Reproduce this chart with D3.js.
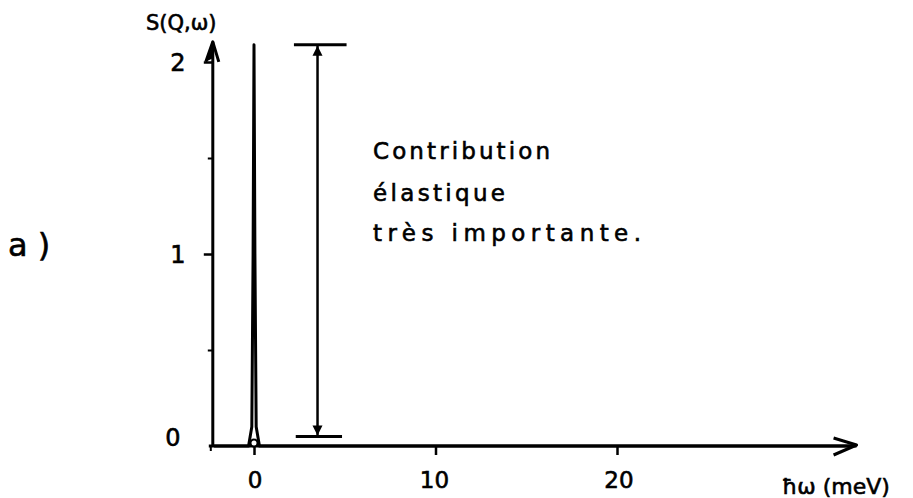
<!DOCTYPE html>
<html><head><meta charset="utf-8">
<script src="https://cdn.jsdelivr.net/npm/d3@7"></script>
<style>
html,body{margin:0;padding:0;background:#fff;}
svg text{font-family:"DejaVu Sans",sans-serif;fill:#000;stroke:#000;stroke-width:0.6px;}
</style></head>
<body><svg id="c" width="913" height="498"></svg>
<script>
// Data
const xTicks = [0, 10, 20];
const xTickLabels = ["0", "10", "20"];
const yMajorTicks = [0, 1, 2];
const yTickLabels = ["0", "1", "2"];
const yMinorTicks = [0.5, 1.5];
// Elastic peak S(Q,w) vs hbar*omega (meV)
const peakX = [-2.2, -0.3, -0.12, -0.05, 0, 0.05, 0.12, 0.3, 33];
const peakY = [0, 0, 0.1, 1.0, 2.09, 1.0, 0.1, 0, 0];
// Double arrow marking the elastic contribution
const arrowX = 3.5, arrowTop = 2.09, arrowBottom = 0.05;
const noteLines = ["Contribution", "élastique", "très  importante."];

const svg = d3.select("#c");
const x = d3.scaleLinear().domain([0, 20]).range([254, 617]);
const y = d3.scaleLinear().domain([0, 2]).range([446, 62]);
const xMin = -2.27, xMax = 33.2, yTop = 2.105;

// axes via d3
const gx = svg.append("g").attr("transform", `translate(0,${y(0)})`)
  .call(d3.axisBottom(x).tickValues(xTicks).tickSize(9).tickFormat(""));
gx.select(".domain").remove();
gx.selectAll(".tick line").attr("stroke", "#000").attr("stroke-width", 2.5);
const gy = svg.append("g").attr("transform", `translate(${x(xMin)},0)`)
  .call(d3.axisLeft(y).tickValues([1, 2]).tickSize(9).tickFormat(""));
gy.select(".domain").remove();
gy.selectAll(".tick line").attr("stroke", "#000").attr("stroke-width", 2.5);
const gy2 = svg.append("g").attr("transform", `translate(${x(xMin)},0)`)
  .call(d3.axisLeft(y).tickValues(yMinorTicks).tickSize(5).tickFormat(""));
gy2.select(".domain").remove();
gy2.selectAll(".tick line").attr("stroke", "#000").attr("stroke-width", 2);

// axis lines
svg.append("line").attr("x1", x(xMin) - 4).attr("x2", x(xMax)).attr("y1", y(0)).attr("y2", y(0))
  .attr("stroke", "#000").attr("stroke-width", 3);
svg.append("line").attr("x1", x(xMin)).attr("x2", x(xMin)).attr("y1", y(0)).attr("y2", y(yTop))
  .attr("stroke", "#000").attr("stroke-width", 3);
svg.append("line").attr("x1", x(xMin) - 2).attr("x2", x(xMin) - 2).attr("y1", y(0)).attr("y2", y(0) + 5)
  .attr("stroke", "#000").attr("stroke-width", 2);
// arrowheads
svg.append("path").attr("d", `M${x(xMax)-23},${y(0)-8} L${x(xMax)},${y(0)-1} L${x(xMax)-23},${y(0)+9}`)
  .attr("fill", "none").attr("stroke", "#000").attr("stroke-width", 3).attr("stroke-linejoin", "round");
svg.append("path").attr("d", `M${x(xMin)-7},${y(yTop)+20} L${x(xMin)},${y(yTop)} L${x(xMin)+6},${y(yTop)+20}`)
  .attr("fill", "none").attr("stroke", "#000").attr("stroke-width", 3).attr("stroke-linejoin", "round");
svg.append("path").attr("d", `M${x(xMin)-7},${y(yTop)+20} L${x(xMin)},${y(yTop)+4} L${x(xMin)+1},${y(yTop)+16}Z`)
  .attr("fill", "#000");

// tick labels
svg.selectAll(".xl").data(xTicks).enter().append("text")
  .attr("x", (d, i) => x(d) + [1, -1, 2][i]).attr("y", 488).attr("text-anchor", "middle")
  .attr("font-size", 23).text((d, i) => xTickLabels[i]);
svg.selectAll(".yl").data(yMajorTicks).enter().append("text")
  .attr("x", (d, i) => [173, 178, 178][i]).attr("y", d => d === 0 ? y(d) : y(d) + 9)
  .attr("text-anchor", "middle").attr("font-size", 24).text((d, i) => yTickLabels[i]);

// peak
const line = d3.line().x((d, i) => x(peakX[i])).y((d, i) => y(peakY[i]));
svg.append("path").datum(peakX).attr("d", line).attr("fill", "none")
  .attr("stroke", "#000").attr("stroke-width", 3).attr("stroke-linejoin", "round");
svg.append("circle").attr("cx", x(0)).attr("cy", y(0) - 3).attr("r", 3.5)
  .attr("fill", "#fff").attr("stroke", "#000").attr("stroke-width", 2);

// double arrow
const ax = x(arrowX);
svg.append("line").attr("x1", ax).attr("x2", ax).attr("y1", y(arrowTop)).attr("y2", y(arrowBottom))
  .attr("stroke", "#000").attr("stroke-width", 2.5);
svg.append("line").attr("x1", x(2.2)).attr("x2", x(5.1)).attr("y1", y(arrowTop)).attr("y2", y(arrowTop))
  .attr("stroke", "#000").attr("stroke-width", 3);
svg.append("line").attr("x1", x(2.3)).attr("x2", x(4.85)).attr("y1", y(arrowBottom)).attr("y2", y(arrowBottom))
  .attr("stroke", "#000").attr("stroke-width", 3);
svg.append("path").attr("d", `M${ax-5},${y(arrowTop)+11} L${ax},${y(arrowTop)+1} L${ax+5},${y(arrowTop)+11}Z`).attr("fill", "#000");
svg.append("path").attr("d", `M${ax-5},${y(arrowBottom)-11} L${ax},${y(arrowBottom)-1} L${ax+5},${y(arrowBottom)-11}Z`).attr("fill", "#000");

// annotation text
const noteY = [159, 201, 241];
const noteLen = [177, 132, 268];
svg.selectAll(".note").data(noteLines).enter().append("text")
  .attr("x", 373).attr("y", (d, i) => noteY[i]).attr("font-size", 23)
  .attr("textLength", (d, i) => noteLen[i]).attr("lengthAdjust", "spacing")
  .text(d => d);

// axis titles
svg.append("text").attr("x", 146).attr("y", 30).attr("font-size", 21).text("S(Q,ω)");
svg.append("text").attr("x", 782).attr("y", 494).attr("font-size", 22).text("ħω (meV)");
svg.append("text").attr("x", 8).attr("y", 256).attr("font-size", 32).text("a )");
</script></body></html>
